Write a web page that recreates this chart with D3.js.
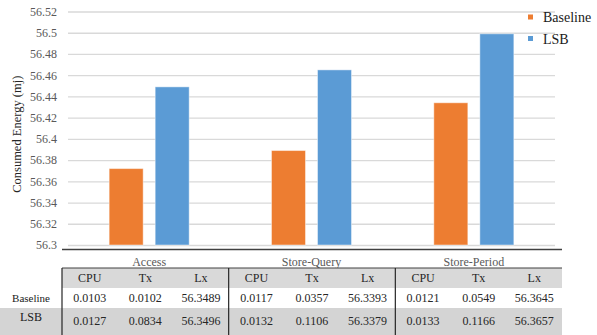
<!DOCTYPE html>
<html>
<head>
<meta charset="utf-8">
<script src="https://cdn.jsdelivr.net/npm/d3@7"></script>
<style>
  html, body { margin: 0; padding: 0; background: #fff; }
  svg { display: block; font-family: "Liberation Serif", "Times New Roman", serif; }
</style>
</head>
<body>
<svg id="chart" width="597" height="335"></svg>
<script>
// Scenarios and series
const categories = ["Access", "Store-Query", "Store-Period"];
const series = ["Baseline", "LSB"];

// Total consumed energy per scenario (mJ)
const baselineEnergy = [56.372, 56.389, 56.434];
const lsbEnergy = [56.449, 56.465, 56.499];

// Y-axis tick values
const yTicks = [56.3, 56.32, 56.34, 56.36, 56.38, 56.4, 56.42, 56.44, 56.46, 56.48, 56.5, 56.52];

// Data table: CPU / Tx / Lx breakdown per scenario
const metrics = ["CPU", "Tx", "Lx"];
const baselineTable = [
  [0.0103, 0.0102, 56.3489],
  [0.0117, 0.0357, 56.3393],
  [0.0121, 0.0549, 56.3645]
];
const lsbTable = [
  [0.0127, 0.0834, 56.3496],
  [0.0132, 0.1106, 56.3379],
  [0.0133, 0.1166, 56.3657]
];

const colors = { Baseline: "#ED7D31", LSB: "#5B9BD5" };

const svg = d3.select("#chart");

const plot = { left: 68, right: 555, top: 11.5, bottom: 245 };

const y = d3.scaleLinear()
  .domain([56.3, 56.52])
  .range([plot.bottom, plot.top]);

const x0 = d3.scaleBand()
  .domain(categories)
  .range([plot.left, plot.right])
  .paddingInner(0.507)
  .paddingOuter(0.2535);

const x1 = d3.scaleBand()
  .domain(series)
  .range([0, x0.bandwidth()])
  .paddingInner(0.2609);

// Gridlines and y tick labels
const yAxis = svg.append("g")
  .attr("transform", `translate(${plot.left},0)`)
  .call(d3.axisLeft(y)
    .tickValues(yTicks)
    .tickFormat(d => String(+d.toFixed(2)))
    .tickSizeInner(-(plot.right - plot.left))
    .tickSizeOuter(0)
    .tickPadding(11));
yAxis.select(".domain").remove();
yAxis.selectAll(".tick line").attr("stroke", "#d9d9d9").attr("stroke-width", 1.3);
yAxis.selectAll(".tick text")
  .attr("fill", "#595959")
  .style("font-size", "12px")
  .style("font-family", "Liberation Serif, serif");

// Y-axis title
svg.append("text")
  .attr("transform", `translate(21,${(plot.top + plot.bottom) / 2 + 6}) rotate(-90)`)
  .attr("text-anchor", "middle")
  .attr("fill", "#262626")
  .style("font-size", "12.5px")
  .text("Consumed Energy (mj)");

// Bars
const groups = svg.append("g")
  .selectAll("g")
  .data(categories.map((c, i) => ({ cat: c, values: [
    { s: "Baseline", v: baselineEnergy[i] },
    { s: "LSB", v: lsbEnergy[i] }
  ] })))
  .join("g")
  .attr("transform", d => `translate(${x0(d.cat)},0)`);

groups.selectAll("rect")
  .data(d => d.values)
  .join("rect")
  .attr("x", d => x1(d.s))
  .attr("width", x1.bandwidth())
  .attr("y", d => y(d.v))
  .attr("height", d => y(56.3) - y(d.v))
  .attr("fill", d => colors[d.s])
  .attr("stroke", "#ffffff")
  .attr("stroke-opacity", 0.45)
  .attr("stroke-width", 1);

// Horizontal axis line and category labels
svg.append("line")
  .attr("x1", 62).attr("x2", 562)
  .attr("y1", 249.5).attr("y2", 249.5)
  .attr("stroke", "#404040")
  .attr("stroke-width", 1.5);

const xAxis = svg.append("g")
  .attr("transform", "translate(0,249.5)")
  .call(d3.axisBottom(x0).tickSize(0).tickPadding(7.5));
xAxis.select(".domain").remove();
xAxis.selectAll(".tick text")
  .attr("fill", "#595959")
  .style("font-size", "12px")
  .style("font-family", "Liberation Serif, serif");

// Legend
const legend = svg.append("g");
series.forEach((s, i) => {
  const ly = 17 + i * 21.5;
  legend.append("rect")
    .attr("x", 528).attr("y", ly - 2.5)
    .attr("width", 5).attr("height", 5)
    .attr("fill", colors[s]);
  legend.append("text")
    .attr("x", 543).attr("y", ly + 5)
    .attr("fill", "#1a1a1a")
    .style("font-size", "14px")
    .text(s);
});

// Data table
const tableX = d3.scaleBand().domain(categories).range([62, 562]);
const colX = d3.scaleBand().domain(metrics).range([0, tableX.bandwidth()]);
const rows = { header: [268, 288], Baseline: [288, 308], LSB: [308, 335] };
const table = svg.append("g");

// Row backgrounds
table.append("rect")
  .attr("x", 62).attr("y", rows.header[0])
  .attr("width", 500).attr("height", rows.header[1] - rows.header[0])
  .attr("fill", "#d9d9d9");
table.append("rect")
  .attr("x", 0).attr("y", rows.LSB[0])
  .attr("width", 562).attr("height", rows.LSB[1] - rows.LSB[0])
  .attr("fill", "#d4d4d4");

// Header cells
categories.forEach(c => {
  metrics.forEach(m => {
    table.append("text")
      .attr("x", tableX(c) + colX(m) + colX.bandwidth() / 2)
      .attr("y", (rows.header[0] + rows.header[1]) / 2 + 4)
      .attr("text-anchor", "middle")
      .attr("fill", "#262626")
      .style("font-size", "12px")
      .text(m);
  });
});

// Value rows
const tableRows = [
  { name: "Baseline", vals: baselineTable, labelY: 302, valY: 302, size: "11px" },
  { name: "LSB", vals: lsbTable, labelY: 321, valY: 325, size: "12px" }
];
tableRows.forEach(r => {
  table.append("text")
    .attr("x", 31).attr("y", r.labelY)
    .attr("text-anchor", "middle")
    .attr("fill", "#1a1a1a")
    .style("font-size", r.size)
    .text(r.name);
  categories.forEach((c, ci) => {
    metrics.forEach((m, mi) => {
      table.append("text")
        .attr("x", tableX(c) + colX(m) + colX.bandwidth() / 2)
        .attr("y", r.valY)
        .attr("text-anchor", "middle")
        .attr("fill", "#262626")
        .style("font-size", "12px")
        .text(r.vals[ci][mi].toFixed(4));
    });
  });
});

// Table borders
table.append("line")
  .attr("x1", 62).attr("x2", 562)
  .attr("y1", rows.header[0]).attr("y2", rows.header[0])
  .attr("stroke", "#404040").attr("stroke-width", 1);
categories.forEach(c => {
  table.append("line")
    .attr("x1", tableX(c)).attr("x2", tableX(c))
    .attr("y1", rows.header[0]).attr("y2", 335)
    .attr("stroke", "#262626").attr("stroke-width", 1.2);
});
</script>
</body>
</html>
